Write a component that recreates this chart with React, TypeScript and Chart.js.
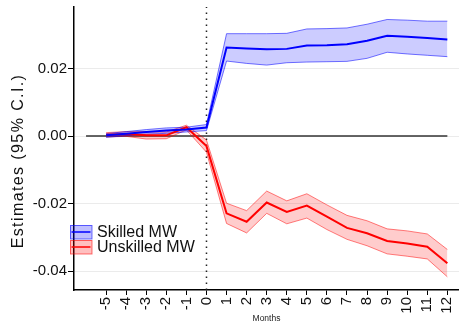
import React, { useEffect, useRef } from "react";
import { Chart, registerables } from "chart.js";

Chart.register(...registerables);

const months = [-5, -4, -3, -2, -1, 0, 1, 2, 3, 4, 5, 6, 7, 8, 9, 10, 11, 12];
const seriesNames = ["Skilled MW", "Unskilled MW"];

const skilledEst = [0.0002, 0.0007, 0.0012, 0.0016, 0.0019, 0.0025, 0.0262, 0.0259, 0.0257, 0.0258, 0.0268, 0.0269, 0.0272, 0.0282, 0.0297, 0.0294, 0.029, 0.0286];
const skilledUpper = [0.0007, 0.0013, 0.0019, 0.0024, 0.0026, 0.0034, 0.0303, 0.0303, 0.0303, 0.0304, 0.0317, 0.0318, 0.032, 0.0331, 0.0345, 0.0343, 0.034, 0.034];
const skilledLower = [-0.0004, 0.0001, 0.0005, 0.0008, 0.0012, 0.0016, 0.0222, 0.0215, 0.021, 0.0217, 0.0219, 0.022, 0.0221, 0.023, 0.0248, 0.0243, 0.0239, 0.0235];

const unskilledEst = [0.0004, 0.0006, 0.0002, 0.0002, 0.0026, -0.003, -0.0229, -0.0254, -0.0197, -0.0225, -0.0206, -0.0239, -0.0272, -0.0288, -0.0311, -0.0318, -0.0328, -0.0377];
const unskilledUpper = [0.001, 0.0013, 0.0013, 0.0012, 0.0032, -0.0012, -0.0199, -0.0221, -0.0163, -0.0192, -0.0171, -0.0204, -0.0235, -0.0251, -0.0275, -0.0281, -0.029, -0.0336];
const unskilledLower = [-0.0003, -0.0001, -0.0009, -0.0008, 0.0018, -0.0048, -0.0259, -0.0287, -0.0229, -0.026, -0.0243, -0.0277, -0.0306, -0.0325, -0.0349, -0.0356, -0.0364, -0.0417];

const yTickValues = [-0.04, -0.02, 0, 0.02];
const xTickValues = months;
const yAxisTitle = "Estimates (95% C.I.)";
const xAxisTitle = "Months";

const X_MIN = -6.6;
const X_MAX = 12.58;
const Y_MIN = -0.0456;
const Y_MAX = 0.0382;

const FONT = "'Liberation Sans', Arial, Helvetica, sans-serif";

const toXY = (vals: number[]) => vals.map((v, i) => ({ x: months[i], y: v }));

export default function App() {
  const ref = useRef<HTMLCanvasElement | null>(null);

  useEffect(() => {
    if (!ref.current) return;

    const yTitlePlugin = {
      id: "yTitle",
      afterDraw(chart: any) {
        const ctx = chart.ctx;
        ctx.save();
        ctx.translate(22.5, 161);
        ctx.rotate(-Math.PI / 2);
        ctx.font = `16px ${FONT}`;
        try { (ctx as any).letterSpacing = "1.4px"; } catch (e) {}
        ctx.fillStyle = "#111";
        ctx.textAlign = "center";
        ctx.textBaseline = "alphabetic";
        ctx.fillText(yAxisTitle, 0, 0);
        ctx.restore();
      },
    };

    const legendPlugin = {
      id: "customLegend",
      afterDraw(chart: any) {
        const ctx = chart.ctx;
        const entries = [
          { label: seriesNames[0], fill: "rgba(0,0,255,0.25)", stroke: "rgba(0,0,255,0.55)", line: "rgb(0,0,255)" },
          { label: seriesNames[1], fill: "rgba(255,0,0,0.25)", stroke: "rgba(255,0,0,0.55)", line: "rgb(255,0,0)" },
        ];
        ctx.save();
        entries.forEach((e, i) => {
          const top = 225 + i * 15;
          ctx.fillStyle = e.fill;
          ctx.fillRect(70, top, 22, 14);
          ctx.strokeStyle = e.stroke;
          ctx.lineWidth = 1;
          ctx.strokeRect(70.5, top + 0.5, 21.5, 13.5);
          ctx.strokeStyle = e.line;
          ctx.lineWidth = 1.5;
          ctx.beginPath();
          ctx.moveTo(71.5, top + 7);
          ctx.lineTo(90.5, top + 7);
          ctx.stroke();
          ctx.fillStyle = "#111";
          ctx.font = `16px ${FONT}`;
          ctx.textAlign = "left";
          ctx.textBaseline = "middle";
          ctx.fillText(e.label, 97, top + 7.5);
        });
        ctx.restore();
      },
    };

    const line = (data: any[], color: string, width: number, extra: any = {}) => ({
      data,
      borderColor: color,
      borderWidth: width,
      pointRadius: 0,
      tension: 0,
      fill: false,
      ...extra,
    });

    const chart = new Chart(ref.current, {
      type: "line",
      data: {
        datasets: [
          line(toXY(skilledEst), "rgb(0,0,255)", 2),
          line(toXY(unskilledEst), "rgb(255,0,0)", 2),
          line(toXY(skilledUpper), "rgba(0,0,255,0.55)", 1, { fill: "+1", backgroundColor: "rgba(0,0,255,0.2)" }),
          line(toXY(skilledLower), "rgba(0,0,255,0.55)", 1),
          line(toXY(unskilledUpper), "rgba(255,0,0,0.5)", 1, { fill: "+1", backgroundColor: "rgba(255,0,0,0.2)" }),
          line(toXY(unskilledLower), "rgba(255,0,0,0.5)", 1),
          line([{ x: 0, y: Y_MIN }, { x: 0, y: Y_MAX }], "#222", 1.5, { borderDash: [1.5, 4.5] }),
          line([{ x: -6, y: 0 }, { x: 12, y: 0 }], "#333", 1.5),
        ],
      },
      options: {
        responsive: false,
        animation: false,
        layout: { padding: { top: 7, left: 0, right: 0, bottom: 0 } },
        plugins: {
          legend: { display: false },
          tooltip: { enabled: false },
        },
        scales: {
          x: {
            type: "linear",
            min: X_MIN,
            max: X_MAX,
            afterBuildTicks: (scale: any) => {
              scale.ticks = xTickValues.map((v) => ({ value: v }));
            },
            afterFit: (scale: any) => {
              scale.height = 35;
              scale.paddingLeft = 0;
              scale.paddingRight = 0;
            },
            border: { display: true, color: "#000", width: 1.5 },
            grid: { drawOnChartArea: false, drawTicks: true, tickLength: 5, tickColor: "#000", lineWidth: 1 },
            ticks: {
              autoSkip: false,
              minRotation: 90,
              maxRotation: 90,
              padding: 2,
              color: "#111",
              font: { family: FONT, size: 15 },
              callback: (v: any) => String(v),
            },
            title: {
              display: true,
              text: xAxisTitle,
              color: "#222",
              font: { family: FONT, size: 8.5 },
              padding: { top: 0, bottom: 1 },
            },
          },
          y: {
            type: "linear",
            min: Y_MIN,
            max: Y_MAX,
            afterBuildTicks: (scale: any) => {
              scale.ticks = yTickValues.map((v) => ({ value: v }));
            },
            afterFit: (scale: any) => {
              scale.width = 74;
              scale.paddingTop = 0;
              scale.paddingBottom = 0;
            },
            border: { display: true, color: "#000", width: 1.5 },
            grid: { drawOnChartArea: true, color: "#ebebeb", lineWidth: 1, drawTicks: true, tickLength: 6, tickColor: "#000" },
            ticks: {
              padding: 1,
              color: "#111",
              font: { family: FONT, size: 15 },
              callback: (v: any) => Number(v).toFixed(2),
            },
          },
        },
      },
      plugins: [yTitlePlugin, legendPlugin],
    } as any);

    return () => chart.destroy();
  }, []);

  return (
    <div style={{ position: "absolute", left: 0, top: 0, width: 459, height: 325, background: "#fff" }}>
      <canvas ref={ref} width={459} height={325} style={{ display: "block" }} />
    </div>
  );
}
